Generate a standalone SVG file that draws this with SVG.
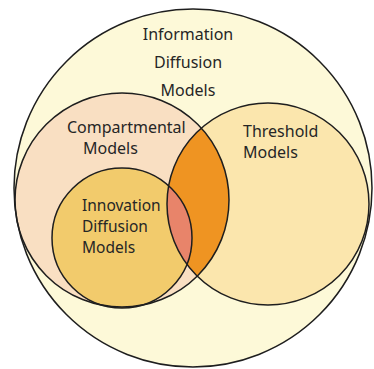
<svg xmlns="http://www.w3.org/2000/svg" width="374" height="369" viewBox="0 0 374 369">
  <style>
    .ring { fill: none; stroke: #1e1e1e; stroke-width: 1.5; }
    .label { font-family: "Noto Sans", "Open Sans", sans-serif; font-size: 16px; fill: #262626; }
    .label.inner { font-size: 15.5px; }
  </style>
  <defs>
    <clipPath id="clip-threshold">
      <circle cx="268" cy="204" r="101"/>
    </clipPath>
  </defs>
  <rect width="374" height="369" fill="#ffffff"/>

  <!-- region fills -->
  <g id="information-diffusion">
    <circle cx="193" cy="188" r="179" fill="#fdf9d8"/>
  </g>
  <g id="compartmental">
    <circle cx="122" cy="200" r="107" fill="#f9dfc2"/>
  </g>
  <g id="threshold">
    <circle cx="268" cy="204" r="101" fill="#fbe6ad"/>
  </g>
  <g id="compartmental-threshold" clip-path="url(#clip-threshold)">
    <circle cx="122" cy="200" r="107" fill="#ef9422"/>
  </g>
  <g id="innovation">
    <circle cx="122" cy="238" r="70" fill="#f2cb6c"/>
  </g>
  <g id="innovation-threshold" clip-path="url(#clip-threshold)">
    <circle cx="122" cy="238" r="70" fill="#e8846a"/>
  </g>

  <!-- outlines -->
  <g id="outlines">
    <circle class="ring" cx="193" cy="188" r="179"/>
    <circle class="ring" cx="122" cy="200" r="107"/>
    <circle class="ring" cx="268" cy="204" r="101"/>
    <circle class="ring" cx="122" cy="238" r="70"/>
  </g>

  <!-- labels -->
  <g id="labels">
    <text class="label" x="188" y="40" text-anchor="middle">Information</text>
    <text class="label" x="188" y="68" text-anchor="middle">Diffusion</text>
    <text class="label" x="188" y="96" text-anchor="middle">Models</text>
    <text class="label" x="67" y="133">Compartmental</text>
    <text class="label" x="83" y="154">Models</text>
    <text class="label" x="243" y="137">Threshold</text>
    <text class="label" x="243" y="158">Models</text>
    <text class="label inner" x="82" y="211">Innovation</text>
    <text class="label inner" x="82" y="232">Diffusion</text>
    <text class="label inner" x="82" y="253">Models</text>
  </g>
</svg>
